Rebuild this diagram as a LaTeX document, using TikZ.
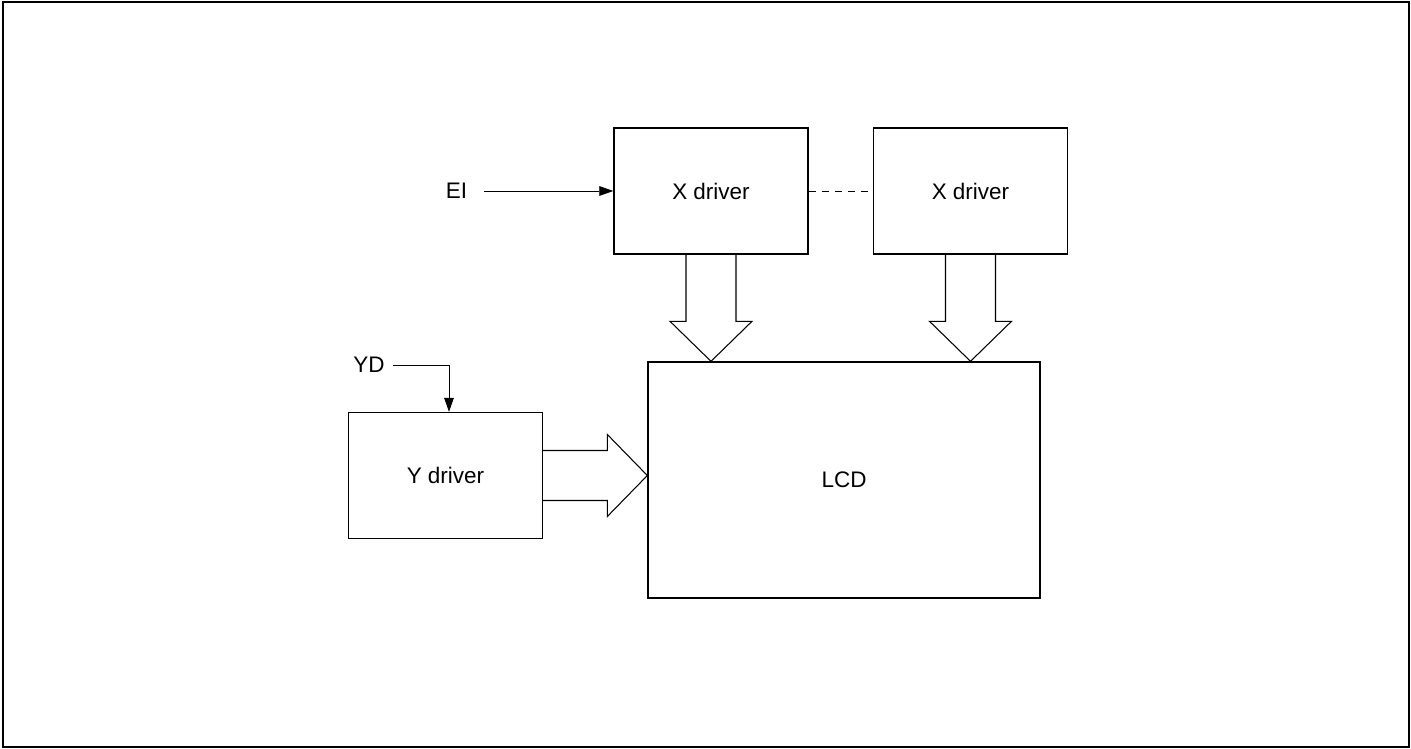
\documentclass[tikz,border=0pt]{standalone}
\usepackage{fontspec}
\setmainfont{Liberation Sans}
\usetikzlibrary{arrows.meta, positioning, calc}

\begin{document}
\begin{tikzpicture}[
      x=0.02cm, y=-0.02cm,
      font=\fontsize{12.8}{15}\selectfont,
      box/.style={rectangle, draw, line width=0.8pt, minimum width=3.88cm, minimum height=2.52cm, align=center},
      lbl/.style={inner sep=1pt},
      sig/.style={-{Triangle[length=8pt, width=5.5pt]}, line width=0.5pt},
      fat/.style={line width=0.6pt},
      frame/.style={line width=1.2pt}
    ]
    \useasboundingbox (0,0) rectangle (1411,749);
    \draw[frame] (3,2) rectangle (1409,747);

    % drivers and panel
    \node[box] (xa) at (711,191) {X driver};
    \node[box] (xb) at (970.5,191) {X driver};
    \node[box, minimum width=7.84cm, minimum height=4.72cm] (lcd) at (844,480) {LCD};
    \node[box] (yd) at (445.5,475.5) {Y driver};

    % inputs
    \node[lbl] (ei) at (456.5,191) {EI};
    \node[lbl] (ydin) at (369,365) {YD};

    \draw[sig] (ei.east) ++(15,0) -- (xa.west);
    \draw[sig] (ydin.east) ++(6,0) -| ($(yd.north)+(3.5,0)$);
    \draw[line width=0.5pt, dash pattern=on 4pt off 3.5pt] (xa.east) -- (xb.west);

    % wide arrows
    \draw[fat] ($(xa.south)+(-25,0)$) -- ($(xa.south |- lcd.north)+(-25,-40)$) -- ++(-16,0)
      -- (xa.south |- lcd.north) -- ++(41,-40) -- ++(-16,0) -- ($(xa.south)+(25,0)$);
    \draw[fat] ($(xb.south)+(-25,0)$) -- ($(xb.south |- lcd.north)+(-25,-40)$) -- ++(-16,0)
      -- (xb.south |- lcd.north) -- ++(41,-40) -- ++(-16,0) -- ($(xb.south)+(25,0)$);
    \draw[fat] ($(yd.east)+(0,-25)$) -- ($(lcd.west |- yd.east)+(-40,-25)$) -- ++(0,-16)
      -- (lcd.west |- yd.east) -- ++(-40,41) -- ++(0,-16) -- ($(yd.east)+(0,25)$);
  \end{tikzpicture}
\end{document}
